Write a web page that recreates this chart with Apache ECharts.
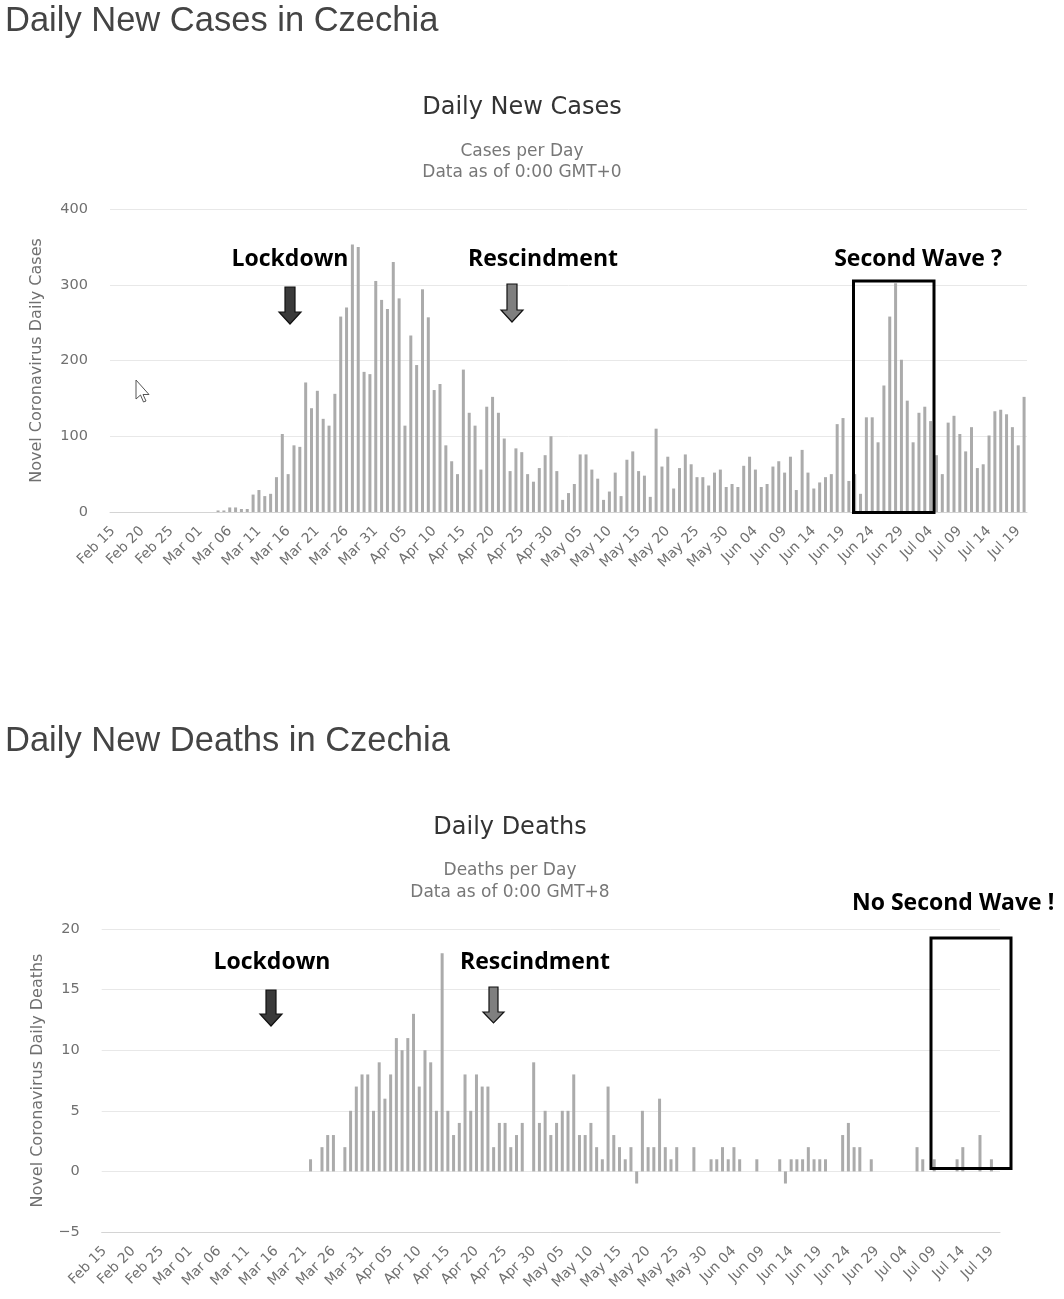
<!DOCTYPE html>
<html>
<head>
<meta charset="utf-8">
<script src="https://cdn.jsdelivr.net/npm/echarts@6/dist/echarts.min.js"></script>
<style>
html,body{margin:0;padding:0;background:#fff;}
#c{width:1064px;height:1299px;}
</style>
</head>
<body>
<div id="c"></div>
<script>
// ---- Data ----
var monthSpans = [['Feb',15,29],['Mar',1,31],['Apr',1,30],['May',1,31],['Jun',1,30],['Jul',1,20]];
var dates = [];
monthSpans.forEach(function(m){
  for (var d = m[1]; d <= m[2]; d++) dates.push(m[0] + ' ' + (d < 10 ? '0' + d : d));
});

var dailyCases = [
  0,0,0,0,0,0,0,0,0,0,0,0,0,0,0,0,0,0,
  2,2,6,6,4,4,
  23,29,21,24,46,103,50,88,86,171,
  137,160,123,114,156,258,270,353,350,185,
  182,305,280,268,330,282,114,233,194,294,
  257,161,169,88,67,50,188,131,114,56,
  139,152,131,97,54,84,79,50,40,58,
  75,100,54,16,25,37,76,76,56,44,
  16,27,52,21,69,80,54,48,20,110,
  60,73,31,58,76,63,46,46,35,52,
  56,33,37,33,61,73,56,33,37,60,
  67,52,73,29,82,52,31,39,46,50,
  116,124,41,50,24,125,125,92,167,258,
  302,201,147,92,131,139,120,75,50,118,
  127,103,80,112,58,63,101,133,135,129,
  112,88,152
];

var dailyDeaths = [
  0,0,0,0,0,0,0,0,0,0,0,0,0,0,0,0,0,0,0,0,0,0,0,0,0,0,0,0,0,0,0,0,0,0,0,0,
  1,0,2,3,3,0,2,5,7,8,
  8,5,9,6,8,11,10,11,13,7,
  10,9,5,18,5,3,4,8,5,8,
  7,7,2,4,4,2,3,4,0,9,
  4,5,3,4,5,5,8,3,3,4,
  2,1,7,3,2,1,2,-1,5,2,
  2,6,2,1,2,0,0,2,0,0,
  1,1,2,1,2,1,0,0,1,0,
  0,0,1,-1,1,1,1,2,1,1,
  1,0,0,3,4,2,2,0,1,0,
  0,0,0,0,0,0,2,1,0,1,
  0,0,0,1,2,0,0,3,0,1,0
];

var casesTicks = {min: 0, max: 400, interval: 100};
var deathsTicks = {min: -5, max: 20, interval: 5};

// ---- Styles ----
var sans = 'DejaVu Sans';
var bold = 'Open Sans';
var barColor = '#ababab';
var gridColor = '#e8e8e8';
var labelColor = '#707070';

function xAxisFor(idx){
  return {
    type: 'category', gridIndex: idx, data: dates,
    axisTick: {show: false},
    axisLine: {show: true, onZero: false, lineStyle: {color: '#d4d4d4', width: 1}},
    axisLabel: {interval: 4, rotate: 45, color: labelColor, fontSize: 14, fontFamily: sans, margin: 17}
  };
}
function yAxisFor(idx, t, name, gap){
  return {
    type: 'value', gridIndex: idx, min: t.min, max: t.max, interval: t.interval,
    axisLine: {show: false}, axisTick: {show: false},
    splitLine: {lineStyle: {color: gridColor, width: 1}},
    axisLabel: {color: labelColor, fontSize: 14.5, fontFamily: sans, margin: 22,
      formatter: function(v){ return String(v).replace('-', '\u2212'); }},
    name: name, nameLocation: 'middle', nameGap: gap, nameRotate: 90,
    nameTextStyle: {color: labelColor, fontSize: 16, fontFamily: sans}
  };
}
function txt(x, y, s, size, color, family, weight, align){
  return {type: 'text', x: x, y: y, z: 100, style: {text: s, fontSize: size, fill: color,
    fontFamily: family, fontWeight: weight || 'normal', textAlign: align || 'center', textVerticalAlign: 'middle'}};
}
function arrow(cx, top, headY, tip, halfShaft, halfHead, fill){
  return {type: 'polygon', z: 100, shape: {points: [
    [cx - halfShaft, top], [cx + halfShaft, top], [cx + halfShaft, headY], [cx + halfHead, headY],
    [cx, tip], [cx - halfHead, headY], [cx - halfShaft, headY]]},
    style: {fill: fill, stroke: '#111', lineWidth: 1.2}};
}
function box(x, y, w, h){
  return {type: 'rect', z: 100, shape: {x: x, y: y, width: w, height: h},
    style: {fill: 'none', stroke: '#000', lineWidth: 3}};
}

var chart = echarts.init(document.getElementById('c'), null, {renderer: 'canvas'});
chart.setOption({
  backgroundColor: '#fff',
  animation: false,
  grid: [
    {left: 110, top: 209, width: 917, height: 303},
    {left: 101.7, top: 929, width: 898.3, height: 303}
  ],
  xAxis: [xAxisFor(0), xAxisFor(1)],
  yAxis: [
    yAxisFor(0, casesTicks, 'Novel Coronavirus Daily Cases', 65),
    yAxisFor(1, deathsTicks, 'Novel Coronavirus Daily Deaths', 56)
  ],
  series: [
    {type: 'bar', xAxisIndex: 0, yAxisIndex: 0, data: dailyCases, barWidth: 3,
     itemStyle: {color: barColor}, silent: true},
    {type: 'bar', xAxisIndex: 1, yAxisIndex: 1, data: dailyDeaths, barWidth: 3,
     itemStyle: {color: barColor}, silent: true}
  ],
  graphic: [
    {type: 'text', x: 5, y: 21, z: 100, style: {text: 'Daily New Cases in Czechia', fontSize: 34.5,
      fill: '#444', fontFamily: 'Liberation Sans', textAlign: 'left', textVerticalAlign: 'middle'}},
    txt(522, 108, 'Daily New Cases', 24, '#333', sans),
    txt(522, 152, 'Cases per Day', 17, '#777', sans),
    txt(522, 173, 'Data as of 0:00 GMT+0', 17, '#777', sans),

    {type: 'text', x: 5, y: 741, z: 100, style: {text: 'Daily New Deaths in Czechia', fontSize: 34.5,
      fill: '#444', fontFamily: 'Liberation Sans', textAlign: 'left', textVerticalAlign: 'middle'}},
    txt(510, 828, 'Daily Deaths', 24, '#333', sans),
    txt(510, 871, 'Deaths per Day', 17, '#777', sans),
    txt(510, 893, 'Data as of 0:00 GMT+8', 17, '#777', sans),

    // annotations, top chart
    txt(290, 259, 'Lockdown', 23, '#000', bold, 'bold'),
    arrow(290, 287, 312, 324, 5, 11, '#3a3a3a'),
    txt(543, 259, 'Rescindment', 23, '#000', bold, 'bold'),
    arrow(512, 284, 310, 322, 5, 11, '#7f7f7f'),
    txt(918, 259, 'Second Wave ?', 23, '#000', bold, 'bold'),
    box(853.5, 281, 80.5, 231.5),

    // annotations, bottom chart
    txt(272, 962, 'Lockdown', 23, '#000', bold, 'bold'),
    arrow(271, 990, 1014, 1026, 5, 11, '#3a3a3a'),
    txt(535, 962, 'Rescindment', 23, '#000', bold, 'bold'),
    arrow(493.5, 987, 1012, 1023, 4.5, 10.5, '#7f7f7f'),
    txt(852, 903, 'No Second Wave !', 23, '#000', bold, 'bold', 'left'),
    box(931, 938, 80, 230.5),

    // mouse pointer captured in the screenshot
    {type: 'polygon', z: 100, shape: {points: [[136,380],[136,399],[140.5,395],[143.5,402],[146,401],[143,394.5],[149,394.5]]},
     style: {fill: '#fff', stroke: '#555', lineWidth: 1}}
  ]
});
</script>
</body>
</html>
